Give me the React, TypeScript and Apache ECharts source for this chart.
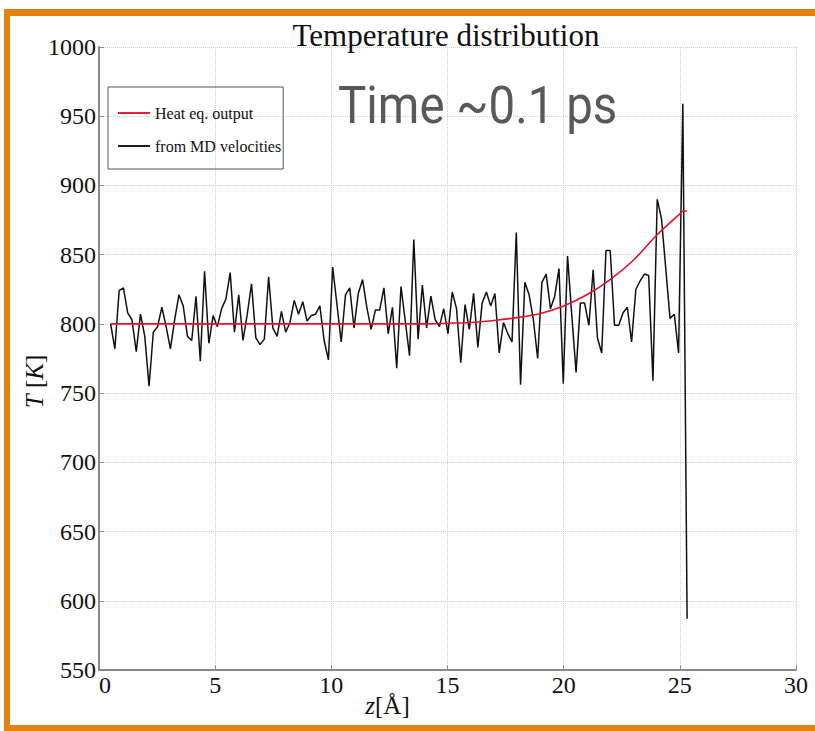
import React, { useEffect, useRef } from "react";
import * as echarts from "echarts";

// Black series: MD velocities, sampled on a uniform z grid
const Z_START = 0.5;
const Z_STEP = 0.1838;
const mdTemps = [
  800, 782, 824, 826, 808, 803, 780, 807, 791, 755,
  794, 798, 812, 798, 782, 803, 821, 813, 791, 788,
  820, 773, 838, 786, 806, 798, 811, 818, 837, 794,
  821, 788, 807, 829, 790, 785, 789, 834, 797, 791,
  809, 794, 801, 817, 807, 816, 802, 806, 807, 813,
  788, 774, 841, 814, 787, 821, 826, 797, 822, 832,
  812, 796, 810, 810, 826, 793, 812, 768, 827, 802,
  777, 861, 789, 828, 797, 820, 803, 798, 811, 793,
  823, 811, 772, 814, 796, 822, 783, 815, 823, 813,
  822, 779, 801, 793, 787, 866, 756, 830, 821, 803,
  775, 830, 836, 811, 820, 840, 757, 849, 806, 765,
  815, 815, 799, 839, 790, 779, 853, 853, 799, 799,
  808, 812, 787, 825, 831, 836, 835, 759, 890, 876,
  840, 804, 807, 779, 959, 587,
];

// Red series: heat equation output
const heatZ = [0.5, 5, 10, 14, 15, 16, 17, 18, 19, 20, 21, 22, 23, 24, 25, 25.12, 25.31];
const heatT = [800, 800, 800, 800, 800.5, 801, 802.5, 804.5, 807.5, 813, 821, 832, 846, 864, 879.5, 881.3, 881.5];

const xTicks = [0, 5, 10, 15, 20, 25, 30];
const yTicks = [550, 600, 650, 700, 750, 800, 850, 900, 950, 1000];

const SERIF = "'Liberation Serif', 'DejaVu Serif', serif";

export default function App() {
  const ref = useRef<HTMLDivElement>(null);
  useEffect(() => {
    if (!ref.current) return;
    const chart = echarts.init(ref.current, undefined, { renderer: "svg" });
    const mdData = mdTemps.map((t, i) => [Z_START + i * Z_STEP, t]);
    const heatData = heatZ.map((z, i) => [z, heatT[i]]);
    chart.setOption({
      animation: false,
      backgroundColor: "#ffffff",
      title: {
        text: "Temperature distribution",
        left: 441,
        top: 15,
        textAlign: "center",
        textStyle: { fontFamily: SERIF, fontSize: 31, fontWeight: "normal", color: "#111" },
      },
      legend: {
        orient: "vertical",
        left: 108,
        top: 87,
        padding: [18, 2, 15, 10],
        itemGap: 17,
        itemWidth: 32,
        itemHeight: 14,
        borderColor: "#555",
        borderWidth: 1,
        borderRadius: 0,
        textStyle: { fontFamily: SERIF, fontSize: 16, color: "#111" },
        data: [
          { name: "Heat eq. output", icon: "path://M0,6 L34,6 L34,8 L0,8 Z" },
          { name: "from MD velocities", icon: "path://M0,6 L34,6 L34,8 L0,8 Z" },
        ],
      },
      grid: { left: 99, right: 19, top: 47, bottom: 61, show: false },
      xAxis: {
        type: "value",
        min: 0,
        max: 30,
        interval: 5,
        name: "{i|z}[Å]",
        nameLocation: "middle",
        nameGap: 23,
        nameMoveOverlap: false,
        nameTextStyle: {
          fontFamily: SERIF,
          fontSize: 25,
          color: "#111",
          padding: [0, 120, 0, 0],
          rich: { i: { fontFamily: SERIF, fontSize: 25, fontStyle: "italic", color: "#111" } },
        },
        axisLine: { show: true, onZero: false, lineStyle: { color: "#8a8a8a", width: 2 } },
        axisTick: { show: true, inside: true, length: 5, lineStyle: { color: "#8a8a8a" } },
        axisLabel: {
          fontFamily: SERIF,
          fontSize: 24,
          color: "#111",
          margin: 3,
          alignMinLabel: "left",
          formatter: (v: number) => (xTicks.includes(v) ? String(v) : ""),
        },
        splitLine: { show: true, lineStyle: { color: "#cfcfcf", type: "dotted", width: 1 } },
      },
      yAxis: {
        type: "value",
        min: 550,
        max: 1000,
        interval: 50,
        name: "{i|T} [{i|K}]",
        nameLocation: "middle",
        nameGap: 52,
        nameMoveOverlap: false,
        nameTextStyle: {
          fontFamily: SERIF,
          fontSize: 25,
          color: "#111",
          padding: [0, 46, 0, 0],
          rich: { i: { fontFamily: SERIF, fontSize: 25, fontStyle: "italic", color: "#111" } },
        },
        axisLine: { show: true, onZero: false, lineStyle: { color: "#8a8a8a", width: 2 } },
        axisTick: { show: true, inside: true, length: 5, lineStyle: { color: "#8a8a8a" } },
        axisLabel: {
          fontFamily: SERIF,
          fontSize: 24,
          color: "#111",
          margin: 3,
          formatter: (v: number) => (yTicks.includes(v) ? String(v) : ""),
        },
        splitLine: { show: true, lineStyle: { color: "#cfcfcf", type: "dotted", width: 1 } },
      },
      series: [
        {
          name: "Heat eq. output",
          type: "line",
          data: heatData,
          smooth: 0.3,
          showSymbol: false,
          symbol: "none",
          lineStyle: { color: "#e8102a", width: 1.6 },
          itemStyle: { color: "#e8102a" },
          z: 3,
        },
        {
          name: "from MD velocities",
          type: "line",
          data: mdData,
          showSymbol: false,
          symbol: "none",
          lineStyle: { color: "#111111", width: 1.5 },
          itemStyle: { color: "#111111" },
          z: 2,
        },
      ],
      graphic: [
        { type: "rect", shape: { x: 4, y: 9, width: 811, height: 7 }, style: { fill: "#e5820f" }, silent: true },
        { type: "rect", shape: { x: 4, y: 9, width: 6, height: 722 }, style: { fill: "#e5820f" }, silent: true },
        { type: "rect", shape: { x: 4, y: 725, width: 811, height: 6 }, style: { fill: "#e5820f" }, silent: true },
        {
          type: "text",
          x: 338,
          y: 80,
          scaleX: 0.93,
          style: {
            text: "Time ~0.1 ps",
            fontFamily: "Roboto, 'Open Sans', sans-serif",
            fontSize: 51,
            fill: "#595959",
          },
          z: 10,
        },
      ],
    });
    return () => chart.dispose();
  }, []);
  return (
    <div
      ref={ref}
      style={{ position: "fixed", left: 0, top: 0, width: 815, height: 731, background: "#fff" }}
    />
  );
}
